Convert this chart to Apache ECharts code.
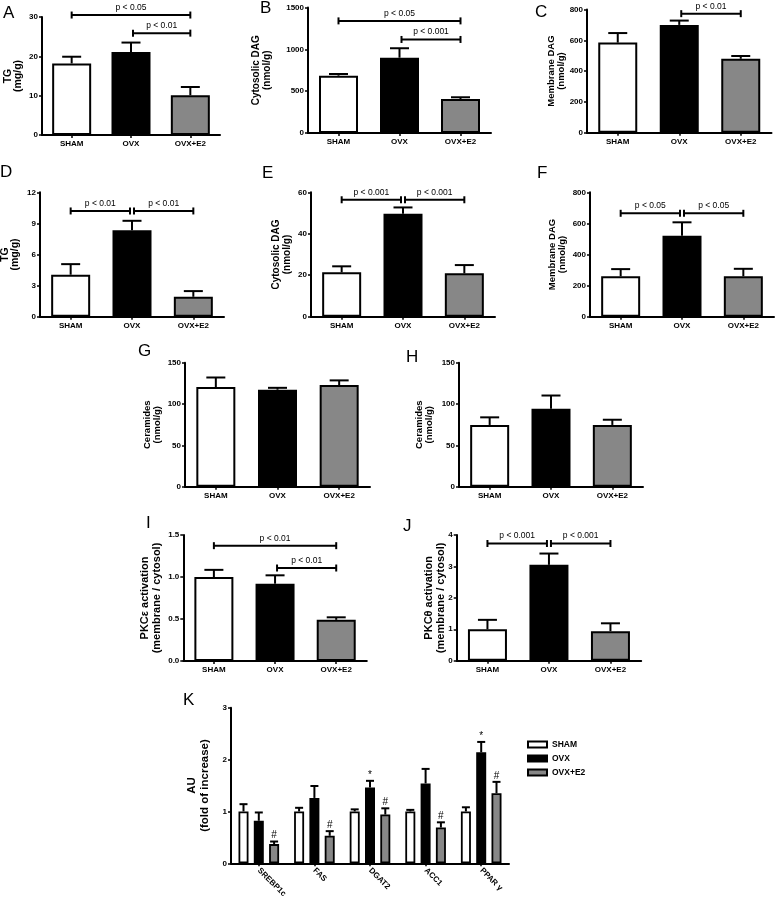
<!DOCTYPE html>
<html>
<head>
<meta charset="utf-8">
<title>Lipids, PKC activation and lipogenic genes</title>
<script src="https://cdn.jsdelivr.net/npm/echarts@6/dist/echarts.min.js"></script>
<style>
  html, body { margin: 0; padding: 0; background: #fff; }
  #chart { width: 777px; height: 903px; }
</style>
</head>
<body>
<div id="chart"></div>
<script>
// groups on the x axis of panels A-J
const groups = ['SHAM', 'OVX', 'OVX+E2'];

// A - TG (mg/g)
const aMean = [18.2, 21.1, 10.1];
const aSem = [1.7, 2.4, 2.1];
const aPairs = [[0, 2, 30.5], [1, 2, 25.9]];
const aP = ['p < 0.05', 'p < 0.01'];

// B - cytosolic DAG
const bMean = [685, 900, 405];
const bSem = [20, 113, 22];
const bPairs = [[0, 2, 1340], [1, 2, 1118]];
const bP = ['p < 0.05', 'p < 0.001'];

// C - membrane DAG
const cMean = [585, 700, 480];
const cSem = [62, 28, 18];
const cPairs = [[1, 2, 773]];
const cP = ['p < 0.01'];

// D - TG
const dMean = [4.05, 8.35, 1.92];
const dSem = [1.02, 0.9, 0.55];
const dPairs = [[0, 1, 10.2], [1, 2, 10.2]];
const dP = ['p < 0.01', 'p < 0.01'];

// E - cytosolic DAG
const eMean = [21.4, 49.6, 20.9];
const eSem = [2.9, 3.1, 4.0];
const ePairs = [[0, 1, 56.4], [1, 2, 56.4]];
const eP = ['p < 0.001', 'p < 0.001'];

// F - membrane DAG
const fMean = [260, 520, 260];
const fSem = [46, 87, 48];
const fPairs = [[0, 1, 665], [1, 2, 665]];
const fP = ['p < 0.05', 'p < 0.05'];

// G, H - ceramides
const gMean = [120.6, 117.3, 123];
const gSem = [11.5, 2.3, 5.6];
const hMean = [74.7, 94.3, 74.7];
const hSem = [9.2, 16, 6.3];

// I - PKC epsilon, J - PKC theta
const iMean = [1.0, 0.92, 0.49];
const iSem = [0.085, 0.1, 0.03];
const iPairs = [[0, 2, 1.373], [1, 2, 1.107]];
const iP = ['p < 0.01', 'p < 0.01'];
const jMean = [1.0, 3.05, 0.94];
const jSem = [0.3, 0.36, 0.25];
const jPairs = [[0, 1, 3.73], [1, 2, 3.73]];
const jP = ['p < 0.001', 'p < 0.001'];

// K - gene expression
const genes = ['SREBP1c', 'FAS', 'DGAT2', 'ACC1', 'PPAR γ'];
const kSham = [1.0, 1.0, 1.0, 1.0, 1.0];
const kShamSem = [0.14, 0.07, 0.04, 0.03, 0.08];
const kOvx = [0.82, 1.26, 1.46, 1.54, 2.14];
const kOvxSem = [0.16, 0.23, 0.13, 0.28, 0.2];
const kE2 = [0.37, 0.53, 0.94, 0.69, 1.35];
const kE2Sem = [0.05, 0.09, 0.12, 0.1, 0.22];
const kOvxMark = ['', '', '*', '', '*'];
const kE2Mark = ['#', '#', '#', '#', '#'];

const FONT = 'Liberation Sans, Arial, Helvetica, sans-serif';
const fills = ['#ffffff', '#000000', '#878787'];
const plain = v => String(v);

const panels = [
  { letter: 'A', mean: aMean, sem: aSem, pairs: aPairs, p: aP, max: 30, step: 10, name: 'TG\n(mg/g)', nameSize: 10.5, lh: 10, gap: 19,
    grid: { left: 42, top: 17, width: 178, height: 118 }, pos: [3, 5] },
  { letter: 'B', mean: bMean, sem: bSem, pairs: bPairs, p: bP, max: 1500, step: 500, name: 'Cytosolic DAG\n(nmol/g)', nameSize: 10, lh: 11, gap: 35,
    grid: { left: 308, top: 7.5, width: 183, height: 125.5 }, pos: [260, 0] },
  { letter: 'C', mean: cMean, sem: cSem, pairs: cPairs, p: cP, max: 800, step: 200, name: 'Membrane DAG\n(nmol/g)', nameSize: 9.5, lh: 10.5, gap: 20,
    grid: { left: 587, top: 9.5, width: 184.5, height: 123.2 }, pos: [535, 4] },
  { letter: 'D', mean: dMean, sem: dSem, pairs: dPairs, p: dP, max: 12, step: 3, name: 'TG\n(mg/g)', nameSize: 10.5, lh: 10, gap: 20,
    grid: { left: 40, top: 192.3, width: 184, height: 124.4 }, pos: [0, 164] },
  { letter: 'E', mean: eMean, sem: eSem, pairs: ePairs, p: eP, max: 60, step: 20, name: 'Cytosolic DAG\n(nmol/g)', nameSize: 10, lh: 11, gap: 18,
    grid: { left: 311, top: 192.3, width: 184, height: 124.4 }, pos: [262, 165] },
  { letter: 'F', mean: fMean, sem: fSem, pairs: fPairs, p: fP, max: 800, step: 200, name: 'Membrane DAG\n(nmol/g)', nameSize: 9.5, lh: 10.5, gap: 22,
    grid: { left: 590, top: 192.3, width: 184, height: 124.4 }, pos: [537, 165] },
  { letter: 'G', mean: gMean, sem: gSem, pairs: [], p: [], max: 150, step: 50, name: 'Ceramides\n(nmol/g)', nameSize: 9.5, lh: 10.5, gap: 22,
    grid: { left: 185, top: 362.7, width: 185, height: 124 }, pos: [138, 343] },
  { letter: 'H', mean: hMean, sem: hSem, pairs: [], p: [], max: 150, step: 50, name: 'Ceramides\n(nmol/g)', nameSize: 9.5, lh: 10.5, gap: 24,
    grid: { left: 459, top: 362.7, width: 184, height: 124 }, pos: [406, 349] },
  { letter: 'I', mean: iMean, sem: iSem, pairs: iPairs, p: iP, max: 1.5, step: 0.5, name: 'PKCε activation\n(membrane / cytosol)', nameSize: 11, lh: 12, gap: 20,
    grid: { left: 183.3, top: 535, width: 183.5, height: 126 }, pos: [146, 515], fmt: v => v.toFixed(1) },
  { letter: 'J', mean: jMean, sem: jSem, pairs: jPairs, p: jP, max: 4, step: 1, name: 'PKCθ activation\n(membrane / cytosol)', nameSize: 11, lh: 12, gap: 10,
    grid: { left: 456.7, top: 535, width: 184.5, height: 125.7 }, pos: [403, 518] }
];

function axisLineStyle() {
  return { show: true, lineStyle: { color: '#000', width: 2 } };
}

function xAx(gi, cats, rotate) {
  return {
    type: 'category', gridIndex: gi, data: cats,
    axisLine: axisLineStyle(),
    axisTick: { show: true, alignWithLabel: true, length: 3, lineStyle: { color: '#000', width: 1.5 } },
    axisLabel: { color: '#000', fontSize: 8, fontWeight: 'bold', fontFamily: FONT, margin: rotate ? 6 : 5, rotate: rotate || 0, interval: 0 }
  };
}

function yAx(gi, max, step, fmt) {
  return {
    type: 'value', gridIndex: gi, min: 0, max: max, interval: step,
    axisLine: axisLineStyle(),
    axisTick: { show: true, length: 3, lineStyle: { color: '#000', width: 1.5 } },
    splitLine: { show: false },
    axisLabel: { color: '#000', fontSize: 8, fontWeight: 'bold', fontFamily: FONT, margin: 4, formatter: fmt || plain }
  };
}

// rotated axis title, placed left of the y axis line
function yTitle(g, text, size, lh, gap) {
  const lines = text.split('\n').length;
  return {
    type: 'text', x: g.left - gap - lines * lh / 2, y: g.top + g.height / 2, rotation: Math.PI / 2,
    style: { text: text, fontSize: size, fontWeight: 'bold', fontFamily: FONT, fill: '#000', lineHeight: lh,
      align: 'center', verticalAlign: 'middle' }
  };
}

function errSeries(gi, mean, sem, dx, cap, marks) {
  return {
    type: 'custom', xAxisIndex: gi, yAxisIndex: gi, z: 5, silent: true,
    data: mean.map((m, i) => [i, m, sem[i]]),
    encode: { x: 0, y: 1 },
    renderItem(params, api) {
      const i = api.value(0);
      const base = api.coord([i, api.value(1)]);
      const tip = api.coord([i, api.value(1) + api.value(2)]);
      const x = base[0] + dx;
      const kids = [
        { type: 'line', shape: { x1: x, y1: base[1], x2: x, y2: tip[1] }, style: { stroke: '#000', lineWidth: 2 } },
        { type: 'line', shape: { x1: x - cap, y1: tip[1], x2: x + cap, y2: tip[1] }, style: { stroke: '#000', lineWidth: 2 } }
      ];
      const mk = marks ? marks[params.dataIndex] : '';
      if (mk) {
        kids.push({ type: 'text', x: x, y: tip[1] - 1,
          style: { text: mk, fill: '#000', fontSize: 10, fontFamily: FONT, align: 'center', verticalAlign: 'bottom' } });
      }
      return { type: 'group', children: kids };
    }
  };
}

function bracketSeries(gi, pairs, labels) {
  return {
    type: 'custom', xAxisIndex: gi, yAxisIndex: gi, z: 6, silent: true,
    data: pairs, encode: { x: 0, y: 2 },
    renderItem(params, api) {
      const p = pairs[params.dataIndex];
      const a = api.coord([p[0], p[2]]);
      const b = api.coord([p[1], p[2]]);
      const xa = a[0] + (p[0] === 1 ? 2 : 0);
      const xb = b[0] - (p[1] === 1 ? 2 : 0);
      const y = a[1];
      const st = { stroke: '#000', lineWidth: 2 };
      return { type: 'group', children: [
        { type: 'line', shape: { x1: xa, y1: y, x2: xb, y2: y }, style: st },
        { type: 'line', shape: { x1: xa, y1: y - 3.5, x2: xa, y2: y + 3.5 }, style: st },
        { type: 'line', shape: { x1: xb, y1: y - 3.5, x2: xb, y2: y + 3.5 }, style: st },
        { type: 'text', x: (xa + xb) / 2, y: y - 3,
          style: { text: labels[params.dataIndex], fill: '#000', fontSize: 8.5, fontFamily: FONT, align: 'center', verticalAlign: 'bottom' } }
      ] };
    }
  };
}

const grid = [], xAxis = [], yAxis = [], series = [], graphic = [];

panels.forEach((pn, gi) => {
  grid.push(Object.assign({ outerBoundsMode: 'none', containLabel: false }, pn.grid));
  xAxis.push(xAx(gi, groups));
  yAxis.push(yAx(gi, pn.max, pn.step, pn.fmt));
  series.push({
    type: 'bar', name: pn.letter + ' bars', xAxisIndex: gi, yAxisIndex: gi, barWidth: 39, silent: true,
    itemStyle: { borderColor: '#000', borderWidth: 2 },
    data: pn.mean.map((v, i) => ({ value: v, itemStyle: { color: fills[i] } }))
  });
  series.push(errSeries(gi, pn.mean, pn.sem, 0, 9.5));
  if (pn.pairs.length) series.push(bracketSeries(gi, pn.pairs, pn.p));
  graphic.push({ type: 'text', left: pn.pos[0], top: pn.pos[1],
    style: { text: pn.letter, fontSize: 17, fontFamily: FONT, fill: '#000' } });
  graphic.push(yTitle(pn.grid, pn.name, pn.nameSize, pn.lh, pn.gap));
});

// panel K
const kg = panels.length;
const kGrid = { left: 231, top: 707.7, width: 278, height: 155.6 };
grid.push(Object.assign({ outerBoundsMode: 'none', containLabel: false }, kGrid));
xAxis.push(xAx(kg, genes, -45));
yAxis.push(yAx(kg, 3, 1));
const kSets = [
  ['SHAM', kSham, kShamSem, null],
  ['OVX', kOvx, kOvxSem, kOvxMark],
  ['OVX+E2', kE2, kE2Sem, kE2Mark]
];
kSets.forEach((s, si) => {
  series.push({
    type: 'bar', name: s[0], xAxisIndex: kg, yAxisIndex: kg, barWidth: 10, barGap: '53%', silent: true,
    itemStyle: { color: fills[si], borderColor: '#000', borderWidth: 1.8 },
    data: s[1]
  });
});
kSets.forEach((s, si) => {
  series.push(errSeries(kg, s[1], s[2], (si - 1) * 15.3, 4, s[3]));
});
graphic.push({ type: 'text', left: 183, top: 692,
  style: { text: 'K', fontSize: 17, fontFamily: FONT, fill: '#000' } });
graphic.push(yTitle(kGrid, 'AU\n(fold of increase)', 11.5, 12.5, 20));

const chart = echarts.init(document.getElementById('chart'), null, { renderer: 'canvas' });
chart.setOption({
  animation: false,
  backgroundColor: '#fff',
  textStyle: { fontFamily: FONT },
  grid: grid,
  xAxis: xAxis,
  yAxis: yAxis,
  legend: {
    data: ['SHAM', 'OVX', 'OVX+E2'], orient: 'vertical', left: 522, top: 735,
    icon: 'rect', itemWidth: 19, itemHeight: 6, itemGap: 5, selectedMode: false,
    textStyle: { color: '#000', fontSize: 8.5, fontWeight: 'bold', fontFamily: FONT }
  },
  graphic: graphic,
  series: series
});
</script>
</body>
</html>
